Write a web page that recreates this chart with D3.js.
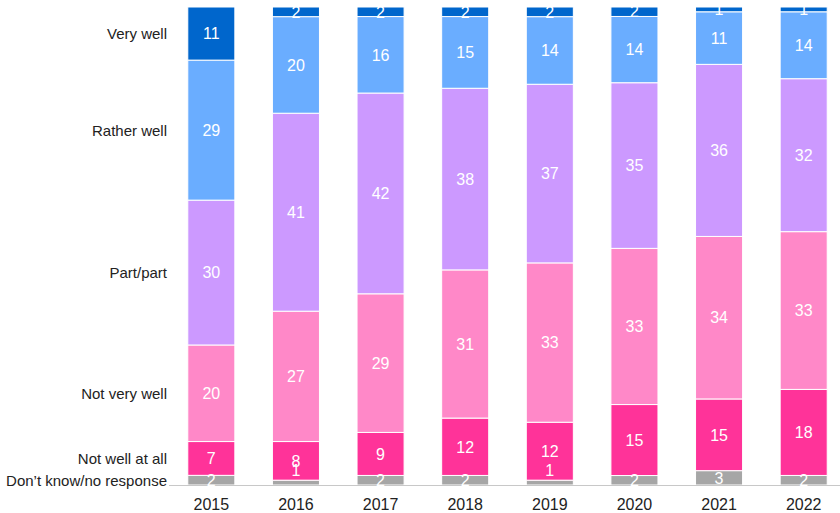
<!DOCTYPE html>
<html>
<head>
<meta charset="utf-8">
<script src="https://cdn.jsdelivr.net/npm/d3@7"></script>
<style>
body { margin: 0; background: #fff; }
text { font-family: "Liberation Sans", Arial, sans-serif; }
</style>
</head>
<body>
<script>
// data, bottom-to-top order of the stack
var years = ["2015", "2016", "2017", "2018", "2019", "2020", "2021", "2022"];
var categories = ["Don\u2019t know/no response", "Not well at all", "Not very well", "Part/part", "Rather well", "Very well"];
var dontKnow   = [2, 1, 2, 2, 1, 2, 3, 2];
var notAtAll   = [7, 8, 9, 12, 12, 15, 15, 18];
var notVery    = [20, 27, 29, 31, 33, 33, 34, 33];
var partPart   = [30, 41, 42, 38, 37, 35, 36, 32];
var ratherWell = [29, 20, 16, 15, 14, 14, 11, 14];
var veryWell   = [11, 2, 2, 2, 2, 2, 1, 1];
var colors = ["#a6a6a6", "#ff3399", "#ff88c8", "#cc99ff", "#6aadff", "#0066cc"];

var series = [dontKnow, notAtAll, notVery, partPart, ratherWell, veryWell];
var rows = years.map(function(y, i) {
    var r = {year: y};
    categories.forEach(function(c, j) { r[c] = series[j][i]; });
    return r;
});

var svg = d3.select("body")
    .append("svg")
    .attr("width", "840")
    .attr("height", "513")
    .style('display', 'block');

var x = d3.scaleBand()
    .domain(years)
    .range([169, 846])
    .paddingInner(0.444)
    .paddingOuter(0.222);

var y = d3.scaleLinear()
    .domain([0, 1])
    .range([485, 7]);

var stack = d3.stack()
    .keys(categories)
    .offset(d3.stackOffsetExpand);
var stacked = stack(rows);

var layer = svg.selectAll("g.layer")
    .data(stacked)
    .enter()
    .append("g")
    .attr("class", "layer")
    .attr("fill", function(d, i) { return colors[i]; });

layer.selectAll("rect")
    .data(function(d) { return d; })
    .enter()
    .append("rect")
    .attr("x", function(d) { return x(d.data.year); })
    .attr("y", function(d) { return y(d[1]); })
    .attr("width", x.bandwidth())
    .attr("height", function(d) { return y(d[0]) - y(d[1]); })
    .attr("stroke", "#fff")
    .attr("stroke-width", 1);

// axis line
svg.append("line")
    .attr("x1", 169).attr("x2", 840)
    .attr("y1", 485.5).attr("y2", 485.5)
    .attr("stroke", "#c8c8c8")
    .attr("stroke-width", 1);

// value labels
stacked.forEach(function(s, si) {
    svg.append("g").selectAll("text")
        .data(s)
        .enter()
        .append("text")
        .attr("x", function(d) { return x(d.data.year) + x.bandwidth() / 2; })
        .attr("y", function(d) {
            var cy = (y(d[0]) + y(d[1])) / 2;
            if (si === 0 && y(d[0]) - y(d[1]) < 7) cy -= 12;
            return cy;
        })
        .attr("dy", "0.36em")
        .attr("text-anchor", "middle")
        .attr("fill", "#fff")
        .style("font-size", "16px")
        .text(function(d, i) { return series[si][i]; });
});

// category labels at the first bar's segments
svg.append("g").selectAll("text")
    .data(stacked)
    .enter()
    .append("text")
    .attr("x", 167)
    .attr("y", function(s) { return (y(s[0][0]) + y(s[0][1])) / 2; })
    .attr("dy", "0.36em")
    .attr("text-anchor", "end")
    .attr("fill", "#222")
    .style("font-size", "15px")
    .text(function(s) { return s.key; });

// year labels
svg.append("g").selectAll("text")
    .data(years)
    .enter()
    .append("text")
    .attr("x", function(d) { return x(d) + x.bandwidth() / 2; })
    .attr("y", 504)
    .attr("dy", "0.36em")
    .attr("text-anchor", "middle")
    .attr("fill", "#222")
    .style("font-size", "16px")
    .text(function(d) { return d; });
</script>
</body>
</html>
